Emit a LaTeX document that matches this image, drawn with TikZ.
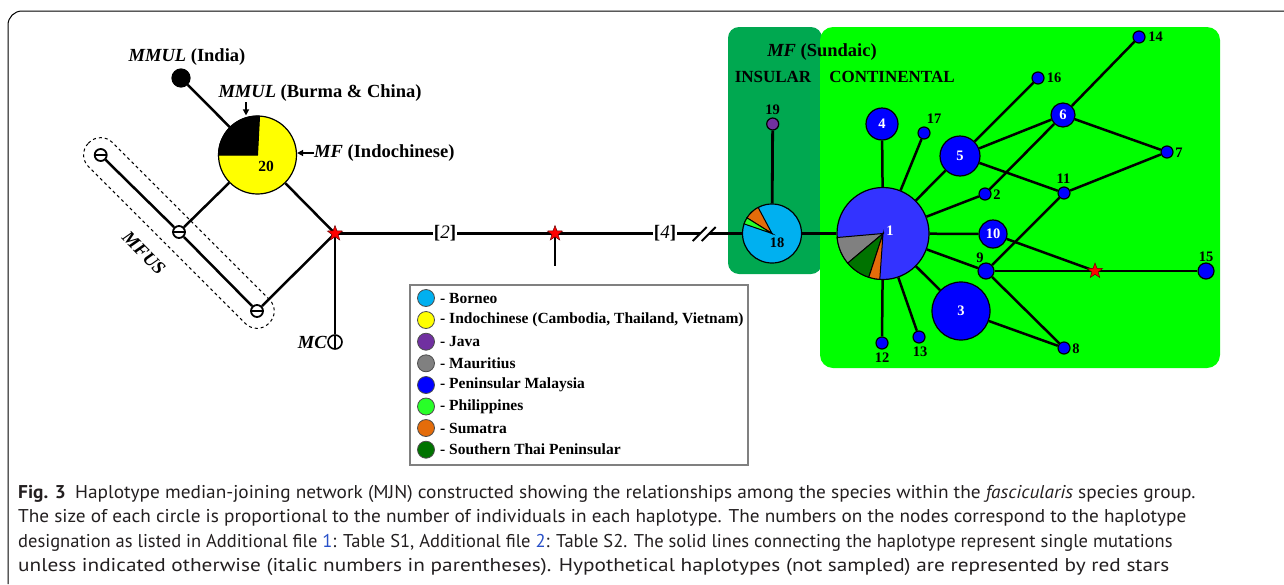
\documentclass[tikz,border=0pt]{standalone}
\usepackage{fontspec}
\setmainfont{Liberation Serif}
\newfontfamily\capfont{PT Sans}
\usetikzlibrary{shapes.geometric,arrows.meta,calc}
\pgfdeclarelayer{bg}
\pgfdeclarelayer{edges}
\pgfsetlayers{bg,edges,main}
\definecolor{borneo}{RGB}{0,176,240}
\definecolor{indo}{RGB}{255,255,0}
\definecolor{java}{RGB}{112,48,160}
\definecolor{maur}{RGB}{128,128,128}
\definecolor{pen}{RGB}{0,0,255}
\definecolor{phil}{RGB}{40,255,40}
\definecolor{suma}{RGB}{228,108,10}
\definecolor{sthai}{RGB}{0,115,0}
\definecolor{nodeone}{RGB}{51,51,255}
\definecolor{insular}{RGB}{0,168,80}
\definecolor{cont}{RGB}{0,255,0}
\definecolor{linkblue}{RGB}{40,80,200}
\definecolor{captext}{RGB}{35,31,32}
\newcommand{\pieslice}[5]{%
  \filldraw[fill=#5, draw=black, line width=1pt] (#1) -- ++(#3:#2pt) arc[start angle=#3, end angle=#4, radius=#2pt] -- cycle;}
\tikzset{
  hap/.style={circle, draw=black, line width=1.2pt, inner sep=0pt, minimum size=#1},
  pn/.style={hap=#1, fill=pen},
  edge/.style={line width=2.5pt},
  num/.style={font=\bfseries\fontsize{14.5}{14.5}\selectfont, inner sep=0pt},
  wnum/.style={num, text=white},
  hstar/.style={star, star points=5, star point ratio=2.4, minimum size=16pt, fill=red, draw=black!60!red, line width=0.5pt, inner sep=0pt},
  labL/.style={font=\bfseries\fontsize{18.5}{18.5}\selectfont, inner sep=0pt},
  labR/.style={font=\bfseries\fontsize{17}{17}\selectfont, inner sep=0pt},
  arr/.style={line width=2pt, -{Triangle[length=6pt,width=6pt]}},
  mfusn/.style={circle, draw=black, line width=1.8pt, fill=white, minimum size=12pt, inner sep=0pt,
     path picture={\draw[line width=2.8pt] (path picture bounding box.west) -- (path picture bounding box.east);}},
  mcn/.style={circle, draw=black, line width=1.6pt, fill=white, minimum size=14pt, inner sep=0pt,
     path picture={\draw[line width=2.4pt] (path picture bounding box.north) -- (path picture bounding box.south);}},
  legc/.style={circle, draw=black!70, line width=0.8pt, minimum size=17pt, inner sep=0pt},
  legt/.style={anchor=west, font=\bfseries\fontsize{15.5}{15.5}\selectfont, inner sep=0pt},
  capl/.style={anchor=base west, inner sep=0pt, text=captext, font=\capfont\fontsize{18.5}{18.5}\selectfont},
  brk/.style={fill=white, inner sep=1pt, font=\fontsize{19}{19}\selectfont}
}
\begin{document}
\begin{tikzpicture}[x=1pt,y=1pt]
\useasboundingbox (0,0) rectangle (1284,-584);
% frame
\draw[line width=1pt, rounded corners=14pt] (8,-584) |- (1284,-11);
% background boxes
\begin{pgfonlayer}{bg}
\fill[insular, rounded corners=11pt] (728,-27) rectangle (822,-274);
\fill[cont, rounded corners=13pt] (820,-27) rectangle (1220,-368);
\end{pgfonlayer}
% ---- left part
\node[hap=18pt, fill=black] (india) at (181,-78) {};
\node[hap=78pt, fill=indo] (pie20) at (257.5,-155) {};
\pieslice{pie20.center}{39}{87}{180}{black}
\node[num, font=\bfseries\fontsize{15.5}{15.5}\selectfont] at (266,-166) {20};
\node[mfusn] (mfus1) at (100.7,-155) {};
\node[mfusn] (mfus2) at (179,-232) {};
\node[mfusn] (mfus3) at (257,-311) {};
\node[hstar] (star1) at (335,-233.5) {};
\node[mcn] (mc) at (335,-342) {};
\node[hstar] (star2) at (555,-233.5) {};
\coordinate (s2end) at (555,-266);
\node[labL] (mmulI) at (187,-57) {\textit{MMUL} (India)};
\node[labL] (mmulBC) at (320,-93) {\textit{MMUL} (Burma \& China)};
\node[labL, anchor=west] (mfI) at (314,-153) {\textit{MF} (Indochinese)};
\node[labL, anchor=east] (mclab) at (327,-342) {\textit{MC}};
\node[rotate=-45, inner sep=0pt, font=\bfseries\itshape\fontsize{18.5}{18.5}\selectfont] (mfus) at (144,-253) {MFUS};
\coordinate (bcarrow) at (246,-102);
\draw[arr] (bcarrow) -- (bcarrow |- pie20.north);
\draw[arr] (mfI.west) -- (mfI.west -| pie20.east);
% dashed rounded box
\draw[dashed, line width=1pt, rounded corners=16.5pt, rotate around={-45:(178.9,-233)}]
  ($(178.9,-233)+(-127.5,-17)$) rectangle ($(178.9,-233)+(127.5,17)$);
\node[brk] (m2) at (445,-233.5) {\textbf{[}\textit{2}\textbf{]}};
\node[brk] (m4) at (665,-233.5) {\textbf{[}\textit{4}\textbf{]}};
% ---- insular
\node[hap=59pt, fill=borneo] (borneo) at (772,-233.5) {};
\pieslice{borneo.center}{29.5}{118}{148}{suma}
\pieslice{borneo.center}{29.5}{148}{161}{phil}
\node[num] at (777,-243) {18};
\node[hap=12pt, fill=java] (java) at (772.7,-124) {};
\node[num] at (772.7,-110) {19};
\node[labL] at (822,-52) {\textit{MF} (Sundaic)};
\node[labR] at (773,-77) {INSULAR};
\node[labR] at (892,-77) {CONTINENTAL};
% ---- continental
\node[hap=92pt, fill=nodeone] (n1) at (883,-233.5) {};
\pieslice{n1.center}{46}{185}{220}{maur}
\pieslice{n1.center}{46}{220}{252}{sthai}
\pieslice{n1.center}{46}{252}{266}{suma}
\node[wnum] at (890,-231) {1};
\node[pn=32pt] (n4) at (882,-124) {};
\node[wnum] at (n4) {4};
\node[pn=12pt] (n17) at (924,-133) {};
\node[num] at (934,-119) {17};
\node[pn=40pt] (n5) at (960,-156) {};
\node[wnum] at (n5) {5};
\node[pn=12pt] (n2) at (985,-194) {};
\node[num] at (997,-195) {2};
\node[pn=28pt] (n10) at (993,-234) {};
\node[wnum] at (n10) {10};
\node[pn=16pt] (n9) at (986,-271) {};
\node[num] at (980,-258) {9};
\node[pn=58pt] (n3) at (961,-311) {};
\node[wnum] at (n3) {3};
\node[pn=12pt] (n12) at (882,-343) {};
\node[num] at (882,-358) {12};
\node[pn=12pt] (n13) at (919,-337) {};
\node[num] at (920,-352) {13};
\node[pn=12pt] (n8) at (1064,-348) {};
\node[num] at (1076,-349) {8};
\node[hstar] (star3) at (1095,-271) {};
\node[pn=16pt] (n15) at (1206,-271) {};
\node[num] at (1206,-257) {15};
\node[pn=12pt] (n11) at (1064,-193) {};
\node[num] at (1063.5,-179) {11};
\node[pn=24pt] (n6) at (1063,-115) {};
\node[wnum] at (n6) {6};
\node[pn=12pt] (n7) at (1167,-152) {};
\node[num] at (1179,-153) {7};
\node[pn=12pt] (n16) at (1038,-78) {};
\node[num] at (1054,-78) {16};
\node[pn=12pt] (n14) at (1139,-37) {};
\node[num] at (1155.5,-37) {14};
% ---- edges
\begin{pgfonlayer}{edges}
\draw[edge] (india) -- (pie20);
\draw[edge] (pie20) -- (mfus2);
\draw[edge] (pie20) -- (star1.center);
\draw[edge] (mfus1) -- (mfus2) -- (mfus3);
\draw[edge] (mfus3) -- (star1.center);
\draw[edge] (star1.center) -- (mc);
\draw[line width=2.8pt] (star1.center) -- (star2.center) -- (borneo);
\draw[line width=2.8pt] (star2.center) -- (s2end);
\draw[line width=2.8pt] (java) -- (borneo);
\draw[line width=2.8pt] (borneo) -- (n1);
\foreach \t in {n4,n17,n5,n2,n10,n9,n3,n13,n12} \draw[edge] (n1) -- (\t);
\draw[edge] (n5) -- (n16);
\draw[edge] (n5) -- (n6);
\draw[edge] (n5) -- (n11);
\draw[edge] (n6) -- (n14);
\draw[edge] (n6) -- (n7);
\draw[edge] (n6) -- (n2);
\draw[edge] (n11) -- (n7);
\draw[edge] (n11) -- (n9);
\draw[edge] (n9) -- (star3.center);
\draw[edge] (n10) -- (star3.center);
\draw[edge] (star3.center) -- (n15);
\draw[edge] (n9) -- (n8);
\draw[edge] (n3) -- (n8);
\end{pgfonlayer}
% break mark
\fill[white] (692.7,-241) -- (706.7,-227) -- (715.7,-227) -- (701.7,-241) -- cycle;
\draw[line width=2pt] (692.7,-241) -- (706.7,-227);
\draw[line width=2pt] (701.7,-241) -- (715.7,-227);
% ---- legend
\draw[draw=black!50, line width=1.5pt] (410,-285) rectangle (748,-465);
\foreach \y/\c/\t [count=\i] in {298/borneo/Borneo, 320/indo/{Indochinese (Cambodia, Thailand, Vietnam)}, 341.7/java/Java, 363.3/maur/Mauritius, 385/pen/Peninsular Malaysia, 406.5/phil/Philippines, 428/suma/Sumatra, 449.7/sthai/Southern Thai Peninsular}{
  \node[legc, fill=\c] (lc\i) at (426,-\y) {};
  \node[legt] (lt\i) at (440,-\y) {- \t};
}
% ---- caption
\node[capl] (cap1) at (18,-498) {\scalebox{1.044}[1]{\textbf{Fig. 3}\hspace{9pt}Haplotype median-joining network (MJN) constructed showing the relationships among the species within the \textit{fascicularis} species group.}};
\node[capl] (cap2) at (18,-522.5) {\scalebox{1.042}[1]{The size of each circle is proportional to the number of individuals in each haplotype. The numbers on the nodes correspond to the haplotype}};
\node[capl] (cap3) at (18,-547) {\scalebox{1.0}[1]{designation as listed in Additional file \textcolor{linkblue}{1}: Table S1, Additional file \textcolor{linkblue}{2}: Table S2. The solid lines connecting the haplotype represent single mutations}};
\node[capl] (cap4) at (18,-571.5) {\scalebox{1.15}[1]{unless indicated otherwise (italic numbers in parentheses). Hypothetical haplotypes (not sampled) are represented by red stars}};
\end{tikzpicture}
\end{document}
